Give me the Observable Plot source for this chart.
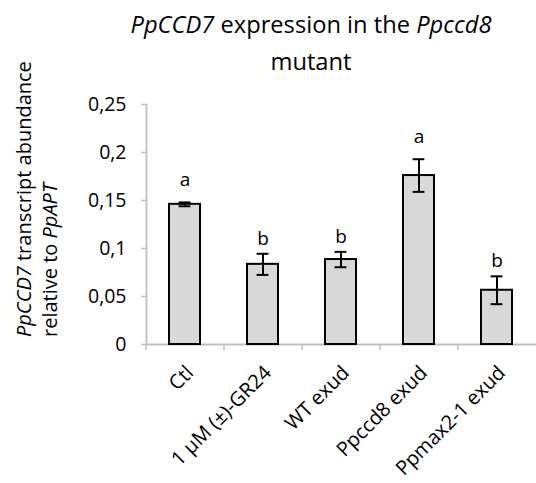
<!DOCTYPE html>
<html><head><meta charset="utf-8">
<script src="https://cdn.jsdelivr.net/npm/d3@7"></script>
<script src="https://cdn.jsdelivr.net/npm/@observablehq/plot@0.6"></script>
<style>
body{margin:0;background:#fff;}
#chart svg{overflow:visible;font-family:"Open Sans",sans-serif;}
</style>
</head><body><div id="chart"></div>
<script>
const categories = ["Ctl", "1 µM (±)-GR24", "WT exud", "Ppccd8 exud", "Ppmax2-1 exud"];
const means = [0.146, 0.0835, 0.0885, 0.176, 0.0565];
const errors = [0.002, 0.011, 0.008, 0.017, 0.0145];
const letters = ["a", "b", "b", "a", "b"];
const yTicks = [0, 0.05, 0.1, 0.15, 0.2, 0.25];
const yTickLabels = ["0", "0,05", "0,1", "0,15", "0,2", "0,25"];

const data = categories.map((c, i) => ({cat: c, v: means[i], e: errors[i], l: letters[i]}));
const step = (536 - 146) / categories.length;
const barW = step * 0.4;

const plot = Plot.plot({
  width: 536, height: 483,
  marginTop: 104, marginBottom: 139, marginLeft: 146, marginRight: 0,
  style: {fontFamily: "Open Sans, sans-serif", fontSize: "19px", color: "#000", background: "#fff"},
  x: {domain: categories, paddingInner: 0.6, paddingOuter: 0.3, align: 0.5, axis: null},
  y: {domain: [0, 0.25], axis: null},
  marks: [
    Plot.axisY({ticks: yTicks, tickFormat: d => yTickLabels[yTicks.indexOf(d)], tickSize: 5, tickPadding: 15, stroke: "#bfbfbf", strokeWidth: 1.5, fontSize: 19.5, fill: "#000", label: null}),
    Plot.frame({anchor: "left", stroke: "#bfbfbf", strokeWidth: 1.8}),
    Plot.ruleY([0], {stroke: "#bfbfbf", strokeWidth: 1.8}),
    Plot.ruleX(categories, {x: d => d, y1: 0, y2: 0, dx: -step / 2, stroke: "#bfbfbf", strokeWidth: 1.5, insetBottom: -6}),
    Plot.barY(data, {x: "cat", y: "v", fill: "#d9d9d9", stroke: "#000", strokeWidth: 2}),
    Plot.ruleX(data, {x: "cat", y1: d => d.v - d.e, y2: d => d.v + d.e, stroke: "#000", strokeWidth: 2}),
    Plot.tickY(data, {x: "cat", y: d => d.v + d.e, stroke: "#000", strokeWidth: 2, insetLeft: barW / 2 - 6, insetRight: barW / 2 - 6}),
    Plot.tickY(data, {x: "cat", y: d => d.v - d.e, stroke: "#000", strokeWidth: 2, insetLeft: barW / 2 - 6, insetRight: barW / 2 - 6}),
    Plot.text(data.filter(d => d.l === "a"), {x: "cat", y: d => d.v + d.e, text: "l", dy: -16, lineAnchor: "bottom", fontSize: 19, fill: "#000"}),
    Plot.text(data.filter(d => d.l === "b"), {x: "cat", y: d => d.v + d.e, text: "l", dy: -9, lineAnchor: "bottom", fontSize: 19, fill: "#000"}),
    Plot.text(categories, {x: d => d, y: 0, text: d => d, rotate: -45, textAnchor: "end", lineAnchor: "middle", dx: 5, dy: 25, fontSize: 20, fill: "#000"})
  ]
});
document.getElementById("chart").appendChild(plot);

const svg = d3.select(plot);
// Title
const t1 = svg.append("text").attr("x", 311).attr("y", 33).attr("text-anchor", "middle").attr("font-size", 23.7).attr("fill", "#000");
t1.append("tspan").attr("font-style", "italic").text("PpCCD7");
t1.append("tspan").text(" expression in the ");
t1.append("tspan").attr("font-style", "italic").text("Ppccd8");
svg.append("text").attr("x", 311).attr("y", 70).attr("text-anchor", "middle").attr("font-size", 23.7).attr("fill", "#000").text("mutant");
// Y label (two lines)
const yl1 = svg.append("text").attr("transform", "translate(31,337) rotate(-90)").attr("text-anchor", "start").attr("font-size", 20).attr("fill", "#000");
yl1.append("tspan").attr("font-style", "italic").text("PpCCD7");
yl1.append("tspan").text(" transcript abundance");
const yl2 = svg.append("text").attr("transform", "translate(57,337) rotate(-90)").attr("text-anchor", "start").attr("font-size", 20).attr("fill", "#000");
yl2.append("tspan").text("relative to ");
yl2.append("tspan").attr("font-style", "italic").text("PpAPT");
</script></body></html>
